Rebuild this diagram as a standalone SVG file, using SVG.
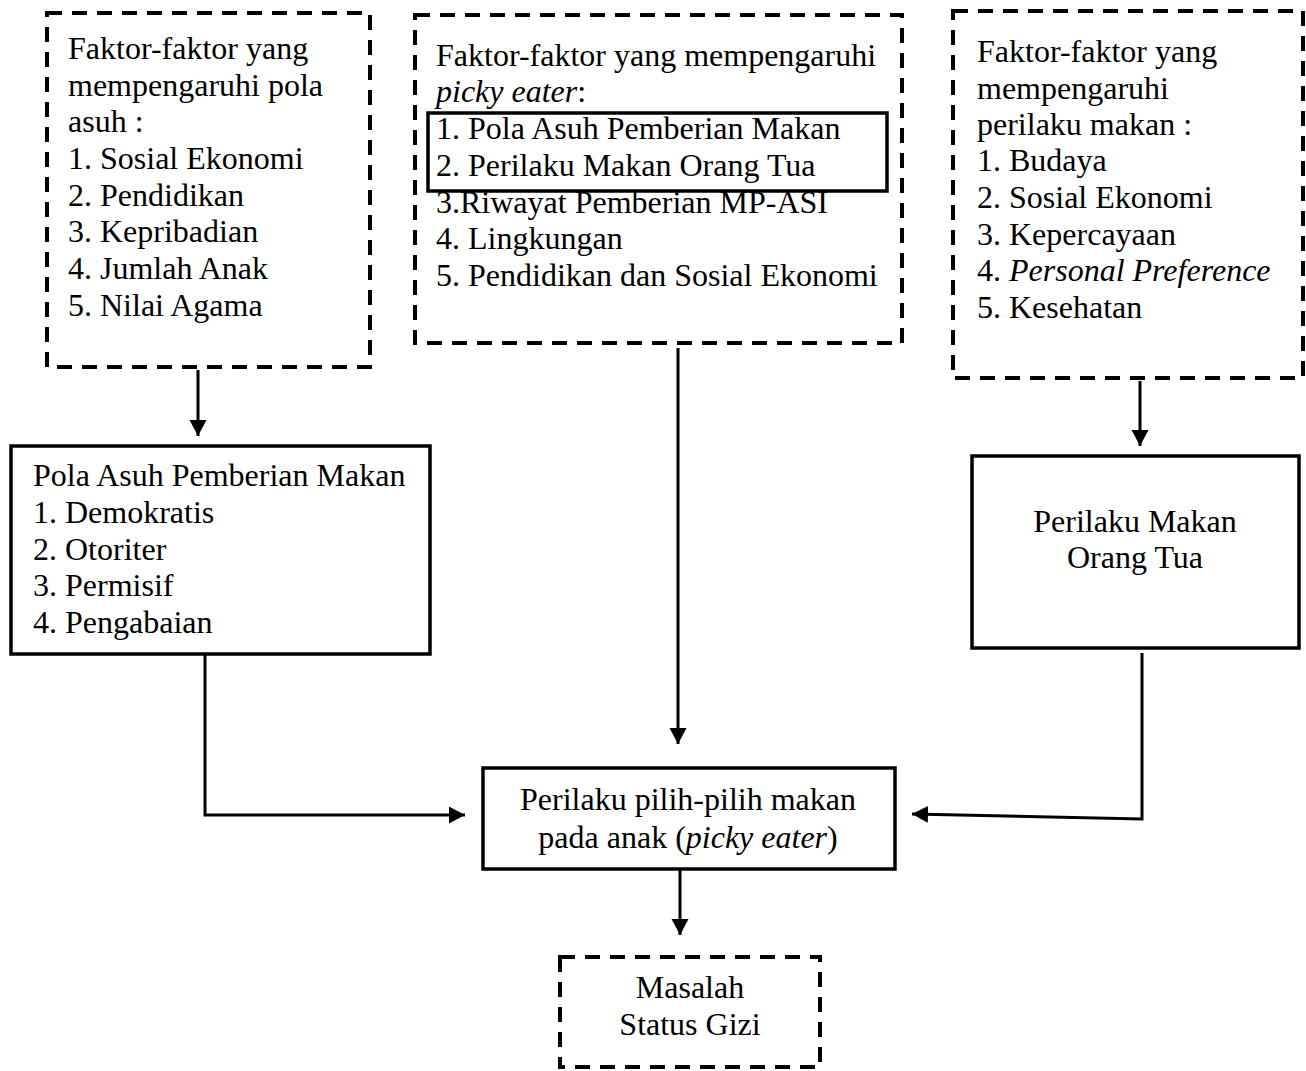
<svg xmlns="http://www.w3.org/2000/svg" width="1306" height="1071" viewBox="0 0 1306 1071">
<style>
text{font-family:"Liberation Serif","Times New Roman",serif;font-size:32px;fill:#000}
.c{text-anchor:middle}
.i{font-style:italic}
.dash{fill:none;stroke:#000;stroke-width:4;stroke-dasharray:15 10}
.solid{fill:none;stroke:#000;stroke-width:3.5}
.ln{fill:none;stroke:#000;stroke-width:3}
</style>
<defs>
<marker id="ah" markerUnits="userSpaceOnUse" markerWidth="18" markerHeight="18" refX="16" refY="8.5" orient="auto">
<path d="M0,0 L16,8.5 L0,17 z" fill="#000"/>
</marker>
</defs>
<rect width="1306" height="1071" fill="#fff"/>
<g id="connectors">
<line class="ln" x1="198" y1="370" x2="198" y2="436" marker-end="url(#ah)"/>
<line class="ln" x1="678" y1="348" x2="678" y2="744" marker-end="url(#ah)"/>
<line class="ln" x1="1140" y1="381" x2="1140" y2="446" marker-end="url(#ah)"/>
<polyline class="ln" points="205,654 205,815 465,815" marker-end="url(#ah)"/>
<polyline class="ln" points="1142,653 1142,819 912,814" marker-end="url(#ah)"/>
<line class="ln" x1="680" y1="870" x2="680" y2="935" marker-end="url(#ah)"/>
</g>
<g id="node-faktor-pola-asuh">
<rect class="dash" x="47" y="13" width="323" height="354"/>
<text x="68" y="59">Faktor-faktor yang</text>
<text x="68" y="96">mempengaruhi pola</text>
<text x="68" y="132">asuh :</text>
<text x="68" y="169">1. Sosial Ekonomi</text>
<text x="68" y="206">2. Pendidikan</text>
<text x="68" y="242">3. Kepribadian</text>
<text x="68" y="279">4. Jumlah Anak</text>
<text x="68" y="316">5. Nilai Agama</text>
</g>
<g id="node-faktor-picky-eater">
<rect class="dash" x="415" y="15" width="487" height="328"/>
<rect class="solid" x="428" y="113" width="459" height="78"/>
<text x="436" y="66">Faktor-faktor yang mempengaruhi</text>
<text x="436" y="102"><tspan class="i">picky eater</tspan>:</text>
<text x="436" y="139">1. Pola Asuh Pemberian Makan</text>
<text x="436" y="176">2. Perilaku Makan Orang Tua</text>
<text x="436" y="213">3.Riwayat Pemberian MP-ASI</text>
<text x="436" y="249">4. Lingkungan</text>
<text x="436" y="286">5. Pendidikan dan Sosial Ekonomi</text>
</g>
<g id="node-faktor-perilaku-makan">
<rect class="dash" x="953" y="11" width="350" height="367"/>
<text x="977" y="62">Faktor-faktor yang</text>
<text x="977" y="99">mempengaruhi</text>
<text x="977" y="135">perilaku makan :</text>
<text x="977" y="171">1. Budaya</text>
<text x="977" y="208">2. Sosial Ekonomi</text>
<text x="977" y="245">3. Kepercayaan</text>
<text x="977" y="281">4. <tspan class="i">Personal Preference</tspan></text>
<text x="977" y="318">5. Kesehatan</text>
</g>
<g id="node-pola-asuh">
<rect class="solid" x="11" y="446" width="419" height="208"/>
<text x="33" y="486">Pola Asuh Pemberian Makan</text>
<text x="33" y="523">1. Demokratis</text>
<text x="33" y="560">2. Otoriter</text>
<text x="33" y="596">3. Permisif</text>
<text x="33" y="633">4. Pengabaian</text>
</g>
<g id="node-perilaku-makan-ortu">
<rect class="solid" x="972" y="456" width="327" height="192"/>
<text class="c" x="1135" y="532">Perilaku Makan</text>
<text class="c" x="1135" y="568">Orang Tua</text>
</g>
<g id="node-picky-eater">
<rect class="solid" x="483" y="768" width="412" height="101"/>
<text class="c" x="688" y="810">Perilaku pilih-pilih makan</text>
<text class="c" x="688" y="848">pada anak (<tspan class="i">picky eater</tspan>)</text>
</g>
<g id="node-status-gizi">
<rect class="dash" x="560" y="957" width="260" height="110"/>
<text class="c" x="690" y="998">Masalah</text>
<text class="c" x="690" y="1035">Status Gizi</text>
</g>
</svg>
